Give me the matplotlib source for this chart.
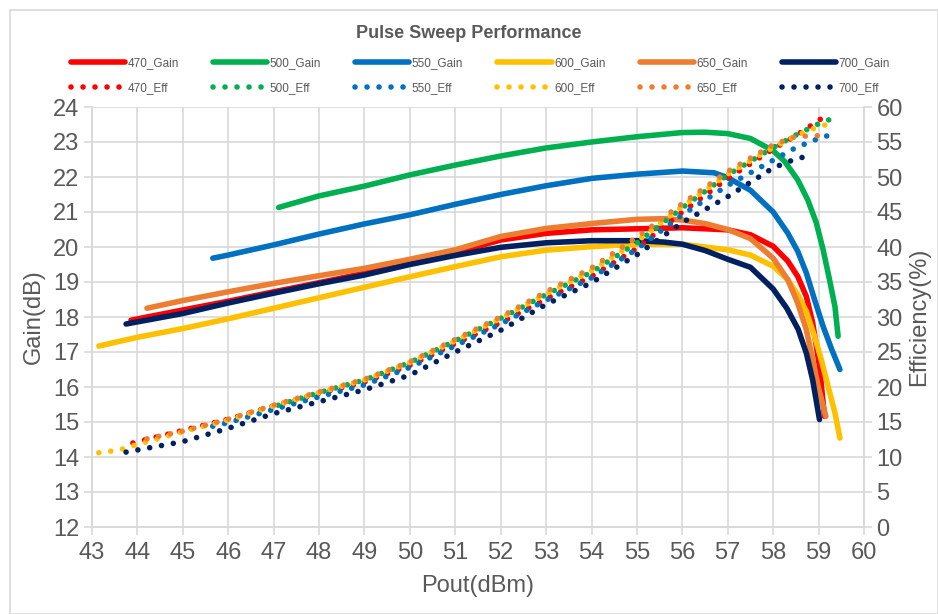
import matplotlib
matplotlib.use("Agg")
import matplotlib.pyplot as plt
from matplotlib import font_manager
from matplotlib.patches import Rectangle

_names = {f.name for f in font_manager.fontManager.ttflist}
_main = 'Liberation Sans Narrow' if 'Liberation Sans Narrow' in _names else 'Liberation Sans'
plt.rcParams['font.family'] = [_main, 'DejaVu Sans']

# ---------------- data ----------------
series_names = ["470", "500", "550", "600", "650", "700"]
colors = ["#FF0000", "#00B050", "#0070C0", "#FFC000", "#ED7D31", "#002060"]

gain_x_470 = [43.86, 45, 46, 47, 48, 49, 50, 51, 52, 53, 54, 55, 56, 57, 57.5, 58, 58.32, 58.54, 58.73, 58.87, 59.02, 59.13]
gain_y_470 = [17.91, 18.2, 18.45, 18.72, 18.98, 19.25, 19.55, 19.84, 20.2, 20.39, 20.49, 20.52, 20.55, 20.49, 20.35, 20.02, 19.6, 19.16, 18.59, 17.83, 16.59, 15.16]

gain_x_500 = [47.11, 48, 49, 50, 51, 52, 53, 54, 55, 56, 56.5, 57, 57.5, 58, 58.25, 58.54, 58.76, 58.95, 59.1, 59.24, 59.36, 59.43]
gain_y_500 = [21.13, 21.46, 21.74, 22.06, 22.34, 22.6, 22.83, 23.0, 23.15, 23.27, 23.28, 23.24, 23.1, 22.75, 22.45, 21.92, 21.35, 20.69, 19.92, 19.07, 18.3, 17.45]

gain_x_550 = [45.66, 46, 47, 48, 49, 50, 51, 52, 53, 54, 55, 56, 56.7, 57, 57.5, 58, 58.32, 58.54, 58.73, 58.91, 59.1, 59.29, 59.47]
gain_y_550 = [19.68, 19.77, 20.06, 20.37, 20.66, 20.92, 21.22, 21.5, 21.75, 21.96, 22.08, 22.17, 22.12, 21.98, 21.62, 21.0, 20.4, 19.88, 19.26, 18.5, 17.73, 17.07, 16.5]

gain_x_600 = [43.15, 44, 45, 46, 47, 48, 49, 50, 51, 52, 53, 54, 55, 56, 56.5, 57, 57.5, 58, 58.32, 58.54, 58.73, 58.91, 59.06, 59.21, 59.36, 59.47]
gain_y_600 = [17.17, 17.42, 17.67, 17.95, 18.25, 18.55, 18.85, 19.15, 19.44, 19.72, 19.91, 20.01, 20.08, 20.08, 20.0, 19.92, 19.77, 19.45, 19.07, 18.64, 18.16, 17.45, 16.78, 16.02, 15.26, 14.54]

gain_x_650 = [44.21, 45, 46, 47, 48, 49, 50, 51, 52, 53, 54, 55, 55.6, 56, 56.5, 57, 57.5, 58, 58.32, 58.54, 58.73, 58.87, 58.99, 59.16]
gain_y_650 = [18.25, 18.47, 18.72, 18.96, 19.18, 19.39, 19.65, 19.92, 20.3, 20.53, 20.67, 20.79, 20.81, 20.77, 20.67, 20.5, 20.24, 19.68, 19.07, 18.4, 17.64, 16.78, 16.02, 15.16]

gain_x_700 = [43.75, 45, 46, 47, 48, 49, 50, 51, 52, 53, 54, 55, 55.6, 56, 56.5, 57, 57.5, 58, 58.3, 58.55, 58.73, 58.87, 59.02]
gain_y_700 = [17.8, 18.1, 18.4, 18.68, 18.95, 19.2, 19.5, 19.76, 19.99, 20.12, 20.18, 20.18, 20.14, 20.08, 19.9, 19.65, 19.42, 18.8, 18.25, 17.65, 16.97, 16.2, 15.07]

eff_x_470 = [43.9, 45, 46, 47, 48, 49, 50, 51, 52, 53, 54, 55, 56, 57, 58, 58.5, 59.05]
eff_y_470 = [12.0, 13.8, 15.4, 17.3, 19.1, 20.7, 23.1, 26.2, 29.2, 32.6, 35.8, 39.8, 45.0, 49.8, 54.0, 55.9, 58.3]

eff_x_500 = [47.1, 48, 49, 50, 51, 52, 53, 54, 55, 56, 57, 58, 58.5, 59, 59.4]
eff_y_500 = [17.4, 19.2, 21.0, 23.5, 26.6, 29.8, 33.2, 36.4, 40.6, 45.6, 50.3, 54.2, 56.0, 57.6, 58.6]

eff_x_550 = [45.66, 46, 47, 48, 49, 50, 51, 52, 53, 54, 55, 56, 57, 58, 58.5, 59, 59.35]
eff_y_550 = [14.4, 14.9, 16.8, 18.6, 20.3, 22.8, 25.9, 29.0, 32.4, 35.6, 39.7, 44.6, 48.8, 52.4, 54.2, 55.5, 56.2]

eff_x_600 = [43.15, 43.6, 44, 45, 46, 47, 48, 49, 50, 51, 52, 53, 54, 55, 56, 57, 58, 58.5, 59, 59.38]
eff_y_600 = [10.6, 11.0, 11.8, 13.6, 15.3, 17.3, 19.2, 21.0, 23.5, 26.6, 29.8, 33.3, 36.6, 40.8, 45.8, 50.4, 54.2, 55.9, 57.2, 57.8]

eff_x_650 = [44.21, 45, 46, 47, 48, 49, 50, 51, 52, 53, 54, 55, 56, 57, 58, 58.5, 59.0]
eff_y_650 = [12.6, 13.7, 15.4, 17.4, 19.3, 21.1, 23.6, 26.8, 30.0, 33.6, 37.0, 41.4, 46.2, 50.8, 54.6, 55.8, 55.9]

eff_x_700 = [43.75, 45, 46, 47, 48, 49, 50, 51, 52, 53, 54, 55, 56, 57, 58, 58.5, 58.86]
eff_y_700 = [10.7, 12.2, 14.1, 16.2, 17.9, 19.6, 21.7, 25.0, 28.1, 31.8, 34.9, 38.9, 43.5, 47.2, 51.3, 52.6, 53.1]

gain_x = [gain_x_470, gain_x_500, gain_x_550, gain_x_600, gain_x_650, gain_x_700]
gain_y = [gain_y_470, gain_y_500, gain_y_550, gain_y_600, gain_y_650, gain_y_700]
eff_x = [eff_x_470, eff_x_500, eff_x_550, eff_x_600, eff_x_650, eff_x_700]
eff_y = [eff_y_470, eff_y_500, eff_y_550, eff_y_600, eff_y_650, eff_y_700]

x_ticks = list(range(43, 61))
gain_ticks = list(range(12, 25))
eff_ticks = list(range(0, 61, 5))

title = "Pulse Sweep Performance"
xlabel = "Pout(dBm)"
ylabel_left = "Gain(dB)"
ylabel_right = "Efficiency(%)"

# ---------------- figure ----------------
W, H = 938, 614
fig = plt.figure(figsize=(W / 100, H / 100), dpi=100)
fig.patches.append(Rectangle((10 / W, 0), 1 - 10 / W, 1 - 10 / H, transform=fig.transFigure,
                             fill=False, edgecolor="#D9D9D9", linewidth=1.2))

ax = fig.add_axes([92 / W, 1 - 527 / H, (864 - 92) / W, (527 - 107) / H])
ax2 = ax.twinx()

grid_c = "#D9D9D9"
text_c = "#595959"

ax.set_xlim(43, 60)
ax.set_ylim(12, 24)
ax2.set_ylim(0, 60)
ax.set_xticks(x_ticks)
ax.set_yticks(gain_ticks)
ax2.set_yticks(eff_ticks)
ax.grid(True, color=grid_c, linewidth=1.2)
ax.set_axisbelow(True)

for a in (ax, ax2):
    for s in a.spines.values():
        s.set_color(grid_c)
        s.set_linewidth(1.2)
    a.spines['top'].set_visible(False)
    a.tick_params(colors=grid_c, labelcolor=text_c, labelsize=17, length=6, width=1.2, direction='out')
ax.tick_params(axis='x', pad=5)
ax.tick_params(axis='y', pad=3)
ax2.tick_params(axis='y', pad=3)

handles = []
for name, c, gx, gy, ex, ey in zip(series_names, colors, gain_x, gain_y, eff_x, eff_y):
    lg, = ax.plot(gx, gy, color=c, linewidth=4.0, solid_capstyle='round', solid_joinstyle='round',
                  label=f"{name}_Gain")
    le, = ax2.plot(ex, ey, color=c, linewidth=4.0, linestyle=(0, (0.01, 2.15)),
                   dash_capstyle='round', label=f"{name}_Eff")
    handles.extend([lg, le])

ax.set_xlabel(xlabel, fontsize=17, color=text_c, labelpad=8)
ax.set_ylabel(ylabel_left, fontsize=17, color=text_c, labelpad=6)
ax2.set_ylabel(ylabel_right, fontsize=17, color=text_c, labelpad=4)

fig.text(0.5, 1 - 33 / H, title, ha='center', va='center', fontsize=13, fontweight='bold', color=text_c)

leg = fig.legend(handles=handles, labels=[h.get_label() for h in handles], ncol=6,
                 loc='center', bbox_to_anchor=(0.512, 1 - 76 / H), frameon=False,
                 fontsize=8.5, handlelength=4.6, handletextpad=0.2, columnspacing=2.9,
                 labelspacing=1.1, labelcolor=text_c)

fig.savefig("out.png", dpi=100)
